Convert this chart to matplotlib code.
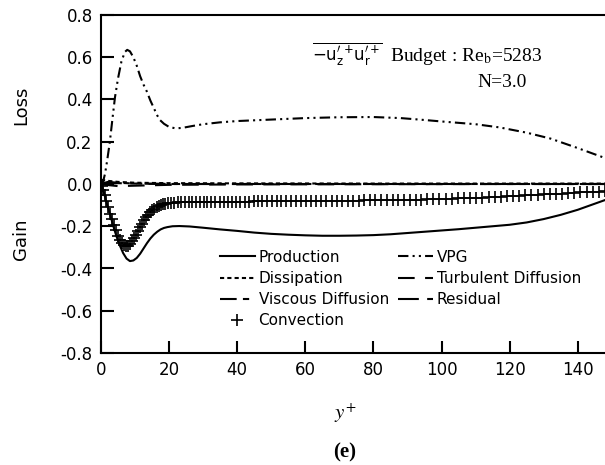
import numpy as np
import matplotlib
matplotlib.use('Agg')
import matplotlib.pyplot as plt

plt.rcParams['font.family'] = 'DejaVu Sans'
plt.rcParams['mathtext.fontset'] = 'stix'

# Production
yp_prod = [0, 0.5, 1, 1.5, 2, 2.6, 3.2, 4, 4.6, 5.5, 6.5, 7.5, 8.5, 9.5, 10.5, 11.5, 12.5, 13.5,
           14.5, 15.5, 16.5, 17.5, 18.5, 19.5, 21, 23, 26, 30, 35, 40, 45, 50, 55, 60, 65, 70, 75,
           80, 85, 90, 95, 100, 105, 110, 115, 120, 125, 130, 135, 140, 144, 148]
production = [0, -0.02, -0.05, -0.08, -0.11, -0.14, -0.175, -0.22, -0.25, -0.29, -0.327, -0.353,
              -0.365, -0.362, -0.35, -0.33, -0.305, -0.28, -0.258, -0.24, -0.226, -0.215, -0.208,
              -0.204, -0.2, -0.199, -0.201, -0.207, -0.215, -0.222, -0.23, -0.236, -0.24, -0.243,
              -0.245, -0.245, -0.244, -0.242, -0.238, -0.232, -0.226, -0.22, -0.214, -0.207, -0.2,
              -0.193, -0.182, -0.166, -0.146, -0.122, -0.099, -0.076]

# VPG
yp_vpg = [0, 0.6, 1.2, 1.8, 2.6, 3.3, 4.1, 5, 6, 7, 7.7, 8.5, 9.5, 10.5, 11.5, 12.5, 13.4, 14.5,
          15.5, 16.5, 17.3, 18.5, 20, 22, 24, 27, 30, 35, 40, 50, 60, 70, 80, 88, 95, 100, 110,
          117, 125, 132, 140, 148]
vpg = [0, 0.01, 0.05, 0.11, 0.2, 0.3, 0.41, 0.5, 0.58, 0.625, 0.635, 0.628, 0.6, 0.56, 0.51, 0.47,
       0.44, 0.395, 0.36, 0.325, 0.303, 0.285, 0.27, 0.263, 0.266, 0.275, 0.283, 0.292, 0.298,
       0.305, 0.312, 0.316, 0.317, 0.312, 0.303, 0.296, 0.283, 0.268, 0.243, 0.215, 0.17, 0.123]

# small terms near zero
yp_small = [0, 2, 5, 10, 20, 40, 80, 120, 148]
dissipation = [0.02, 0.015, 0.01, 0.006, 0.004, 0.003, 0.002, 0.002, 0.002]
turb_diff = [0, -0.005, -0.01, -0.008, -0.004, -0.002, -0.001, 0, 0]
visc_diff = [0, 0.01, 0.006, 0.002, 0, 0, 0, 0, 0]
residual = [0, 0.002, 0.004, 0.002, 0, 0, 0, 0, 0]

# Convection (grid points)
yp_conv = [0, 0.3, 0.7, 1.1, 1.6, 2.1, 2.6, 3.1, 3.7, 4.3, 4.9, 5.5, 6.1, 6.7, 7.3, 7.9, 8.5, 9.1,
           9.7, 10.3, 10.9, 11.5, 12.1, 12.7, 13.3, 13.9, 14.5, 15.1, 15.7, 16.3, 16.9, 17.5, 18.2,
           18.9, 19.6, 20.5, 21.5, 22.5, 23.5, 24.6, 25.7, 26.8, 27.9, 29.0, 30.1, 31.2, 32.4, 33.6,
           34.8, 36.0, 37.2, 38.4, 39.6, 40.9, 42.2, 43.5, 44.8, 46.1, 47.4, 48.8, 50.2, 51.6, 53.0,
           54.4, 55.8, 57.2, 58.7, 60.2, 61.7, 63.2, 64.7, 66.2, 67.7, 69.3, 70.9, 72.5, 74.1, 75.7,
           77.3, 78.9, 80.5, 82.2, 83.9, 85.6, 87.3, 89.0, 90.7, 92.4, 94.1, 95.8, 97.6, 99.4, 101.2,
           103.0, 104.8, 106.6, 108.4, 110.2, 112.0, 113.8, 115.6, 117.4, 119.2, 121.0, 122.8,
           124.6, 126.4, 128.2, 130.0, 131.8, 133.6, 135.4, 137.2, 139.0, 140.8, 142.6, 144.4,
           146.2, 148.0]
convection = [0, -0.01, -0.03, -0.05, -0.08, -0.11, -0.14, -0.165, -0.195, -0.22, -0.245, -0.265,
              -0.28, -0.29, -0.295, -0.293, -0.285, -0.272, -0.257, -0.24, -0.222, -0.204, -0.187,
              -0.171, -0.157, -0.145, -0.134, -0.125, -0.117, -0.11, -0.105, -0.1, -0.096, -0.093,
              -0.091, -0.089, -0.088, -0.087, -0.086, -0.085, -0.085, -0.084, -0.084, -0.084,
              -0.084, -0.083, -0.083, -0.083, -0.083, -0.083, -0.083, -0.083, -0.083, -0.083,
              -0.083, -0.083, -0.082, -0.082, -0.082, -0.082, -0.082, -0.082, -0.082, -0.082,
              -0.082, -0.082, -0.082, -0.082, -0.082, -0.081, -0.081, -0.081, -0.080, -0.080,
              -0.080, -0.079, -0.079, -0.079, -0.078, -0.078, -0.078, -0.077, -0.077, -0.076,
              -0.076, -0.076, -0.075, -0.074, -0.074, -0.073, -0.072, -0.071, -0.070, -0.069,
              -0.068, -0.067, -0.066, -0.065, -0.064, -0.063, -0.061, -0.060, -0.058, -0.057,
              -0.055, -0.054, -0.052, -0.051, -0.049, -0.048, -0.046, -0.045, -0.043, -0.042,
              -0.040, -0.039, -0.037, -0.036, -0.035]

xticks = [0, 20, 40, 60, 80, 100, 120, 140]
yticks = [-0.8, -0.6, -0.4, -0.2, 0.0, 0.2, 0.4, 0.6, 0.8]

fig = plt.figure(figsize=(6.05, 4.65), dpi=100)
ax = fig.add_axes([101/605, 1-353/465, 1-101/605, 338/465])

lw = 1.5
ax.plot(yp_prod, production, color='black', lw=lw, label='Production')
ax.plot(yp_small, dissipation, color='black', lw=lw, ls=(0, (2, 1.5)), label='Dissipation')
ax.plot(yp_small, visc_diff, color='black', lw=lw, ls=(0, (8, 3, 3, 3, 3, 3)), label='Viscous Diffusion')
ax.plot(yp_conv, convection, color='black', lw=0, marker='+', ms=8, mew=1.2, label='Convection')
ax.plot(yp_vpg, vpg, color='black', lw=lw, ls=(0, (5, 2, 1, 2, 1, 2)), label='VPG')
ax.plot(yp_small, turb_diff, color='black', lw=lw, ls=(0, (8, 5)), label='Turbulent Diffusion')
ax.plot(yp_small, residual, color='black', lw=lw, ls=(0, (10, 4, 3, 4)), label='Residual')

ax.set_xlim(0, 148)
ax.set_ylim(-0.8, 0.8)
ax.set_xticks(xticks)
ax.set_yticks(yticks)
ax.set_yticklabels(['%.1f' % v for v in yticks])
ax.tick_params(direction='in', length=9, width=1.5, labelsize=12, pad=6, top=False, right=False)
for s in ['left', 'bottom', 'top']:
    ax.spines[s].set_linewidth(1.5)
ax.spines['right'].set_visible(False)

ax.legend(loc='upper left', bbox_to_anchor=(212/605, 1-242/465), bbox_transform=fig.transFigure,
          ncol=2, frameon=False, fontsize=11, handlelength=2.3, handletextpad=0.25,
          columnspacing=0.6, labelspacing=0.41, borderpad=0, numpoints=1)

fig.text(312/605, 1-61/465,
         r"$\overline{-\mathrm{u}^{\prime}_{\mathrm{z}}{}^{+}\mathrm{u}^{\prime}_{\mathrm{r}}{}^{+}}$",
         fontsize=12, va='baseline', ha='left', math_fontfamily='dejavusans')
fig.text(390/605, 1-61/465, r"Budget : Re$_{\mathrm{b}}$=5283", family='Liberation Serif',
         fontsize=14, va='baseline', ha='left')
fig.text(477/605, 1-87/465, "N=3.0", family='Liberation Serif', fontsize=14, va='baseline', ha='left')

fig.text(21/605, 1-105/465, 'Loss', rotation=90, fontsize=13, ha='center', va='center')
fig.text(21/605, 1-239/465, 'Gain', rotation=90, fontsize=13, ha='center', va='center')
fig.text(345/605, 1-413/465, r'$y^{+}$', fontsize=15, ha='center', va='center')
fig.text(345/605, 1-452/465, '(e)', family='Liberation Serif', weight='bold', fontsize=15,
         ha='center', va='center')

fig.savefig('out.png', dpi=100)
